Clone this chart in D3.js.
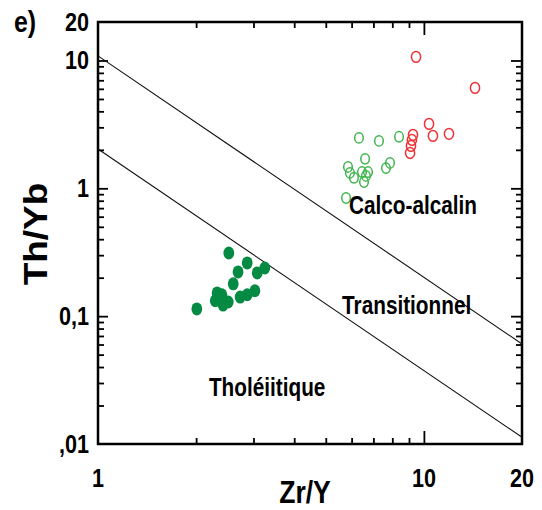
<!DOCTYPE html>
<html>
<head>
<meta charset="utf-8">
<script src="https://cdn.jsdelivr.net/npm/d3@7"></script>
<style>
  html, body { margin: 0; padding: 0; background: #fff; }
  svg text { font-family: "Liberation Sans", Arial, Helvetica, sans-serif; font-weight: bold; fill: #000; }
</style>
</head>
<body>
<svg id="chart" width="542" height="510"></svg>
<script>
// ---- data ----
const tholeiiticZrY = [2.52, 2.87, 2.69, 3.08, 3.25, 2.60, 3.03, 2.87, 2.73, 2.32, 2.40, 2.29, 2.42, 2.51, 2.37, 2.01];
const tholeiiticThYb = [0.312, 0.261, 0.222, 0.218, 0.238, 0.179, 0.158, 0.147, 0.141, 0.152, 0.147, 0.132, 0.122, 0.129, 0.139, 0.114];

const calcGreenZrY = [6.32, 7.28, 8.39, 6.60, 5.85, 5.93, 6.10, 6.46, 6.74, 6.55, 6.64, 7.65, 7.87, 5.77];
const calcGreenThYb = [2.48, 2.35, 2.53, 1.70, 1.47, 1.32, 1.21, 1.34, 1.34, 1.12, 1.25, 1.44, 1.58, 0.84];

const calcRedZrY = [9.46, 14.35, 10.37, 10.66, 11.94, 9.26, 9.19, 9.13, 9.07];
const calcRedThYb = [10.67, 6.10, 3.19, 2.57, 2.67, 2.62, 2.39, 2.15, 1.89];

const boundaryZrY = [1, 20];
const upperBoundaryThYb = [10.87, 0.0606];
const lowerBoundaryThYb = [2.03, 0.0113];

const xMajorTicks = [10];
const xMinorTicks = [2, 3, 4, 5, 6, 7, 8, 9];
const yMajorTicks = [0.1, 1, 10];
const yMinorTicks = [0.02, 0.03, 0.04, 0.05, 0.06, 0.07, 0.08, 0.09, 0.2, 0.3, 0.4, 0.5, 0.6, 0.7, 0.8, 0.9, 2, 3, 4, 5, 6, 7, 8, 9];

const xTickValues = [1, 10, 20];
const xTickLabels = ["1", "10", "20"];
const yTickValues = [0.01, 0.1, 1, 10, 20];
const yTickLabels = [",01", "0,1", "1", "10", "20"];

const regionNames = ["Calco-alcalin", "Transitionnel", "Tholéiitique"];
const regionZrY = [5.89, 5.61, 2.19];
const regionThYb = [0.63, 0.104, 0.0237];

// ---- layout ----
const svg = d3.select("#chart");
const L = 98, R = 522, T = 22, B = 444;
const SX = 0.83; // horizontal squeeze of the reference's lettering

const x = d3.scaleLog().domain([1, 20]).range([L, R]);
const y = d3.scaleLog().domain([0.01, 20]).range([B, T]);

const tickStroke = 1.8;
function styleTicks(g) {
  g.select(".domain").remove();
  g.selectAll("line").attr("stroke", "#000").attr("stroke-width", tickStroke);
  g.selectAll("text").remove();
}

// ticks pointing inward on every side
svg.append("g").attr("transform", `translate(0,${B})`)
  .call(d3.axisBottom(x).tickValues(xMinorTicks).tickSize(-6).tickFormat("")).call(styleTicks);
svg.append("g").attr("transform", `translate(0,${B})`)
  .call(d3.axisBottom(x).tickValues(xMajorTicks).tickSize(-13).tickFormat("")).call(styleTicks);
svg.append("g").attr("transform", `translate(0,${T})`)
  .call(d3.axisTop(x).tickValues(xMinorTicks).tickSize(-6).tickFormat("")).call(styleTicks);
svg.append("g").attr("transform", `translate(0,${T})`)
  .call(d3.axisTop(x).tickValues(xMajorTicks).tickSize(-13).tickFormat("")).call(styleTicks);
svg.append("g").attr("transform", `translate(${L},0)`)
  .call(d3.axisLeft(y).tickValues(yMinorTicks).tickSize(-6).tickFormat("")).call(styleTicks);
svg.append("g").attr("transform", `translate(${L},0)`)
  .call(d3.axisLeft(y).tickValues(yMajorTicks).tickSize(-10).tickFormat("")).call(styleTicks);
svg.append("g").attr("transform", `translate(${R},0)`)
  .call(d3.axisRight(y).tickValues(yMinorTicks).tickSize(-6).tickFormat("")).call(styleTicks);
svg.append("g").attr("transform", `translate(${R},0)`)
  .call(d3.axisRight(y).tickValues(yMajorTicks).tickSize(-11).tickFormat("")).call(styleTicks);

// frame
svg.append("rect").attr("x", L).attr("y", T).attr("width", R - L).attr("height", B - T)
  .attr("fill", "none").attr("stroke", "#000").attr("stroke-width", 2.5);

// boundary lines
const line = d3.line().x(d => x(d[0])).y(d => y(d[1]));
[upperBoundaryThYb, lowerBoundaryThYb].forEach(ys => {
  svg.append("path")
    .datum(boundaryZrY.map((v, i) => [v, ys[i]]))
    .attr("d", line).attr("fill", "none").attr("stroke", "#111").attr("stroke-width", 1.1);
});

// points
svg.append("g").selectAll("ellipse")
  .data(tholeiiticZrY.map((v, i) => [v, tholeiiticThYb[i]]))
  .join("ellipse")
  .attr("cx", d => x(d[0])).attr("cy", d => y(d[1]))
  .attr("rx", 5.4).attr("ry", 6.5).attr("fill", "#048a42");

svg.append("g").selectAll("ellipse")
  .data(calcGreenZrY.map((v, i) => [v, calcGreenThYb[i]]))
  .join("ellipse")
  .attr("cx", d => x(d[0])).attr("cy", d => y(d[1]))
  .attr("rx", 4.3).attr("ry", 5.2).attr("fill", "none")
  .attr("stroke", "#3db54c").attr("stroke-width", 1.5);

svg.append("g").selectAll("ellipse")
  .data(calcRedZrY.map((v, i) => [v, calcRedThYb[i]]))
  .join("ellipse")
  .attr("cx", d => x(d[0])).attr("cy", d => y(d[1]))
  .attr("rx", 4.6).attr("ry", 5.4).attr("fill", "none")
  .attr("stroke", "#ee3338").attr("stroke-width", 1.5);

// text helper (squeezed horizontally like the reference)
function label(txt, px, py, size, anchor) {
  svg.append("text")
    .attr("transform", `translate(${px},${py}) scale(${SX},1)`)
    .attr("text-anchor", anchor || "start")
    .style("font-size", size + "px")
    .text(txt);
}

// tick labels
yTickValues.forEach((v, i) => label(yTickLabels[i], 89, y(v) + 9, 26, "end"));
xTickValues.forEach((v, i) => label(xTickLabels[i], x(v), 487, 26, "middle"));

// region labels
regionNames.forEach((n, i) => label(n, x(regionZrY[i]), y(regionThYb[i]), 25, "start"));

// panel letter
label("e)", 14, 32, 30, "start");

// axis titles
label("Zr/Y", 305, 503, 32, "middle");
svg.append("text")
  .attr("transform", `translate(47,234) rotate(-90) scale(1,0.9)`)
  .attr("text-anchor", "middle")
  .style("font-size", "37px")
  .text("Th/Yb");
</script>
</body>
</html>
